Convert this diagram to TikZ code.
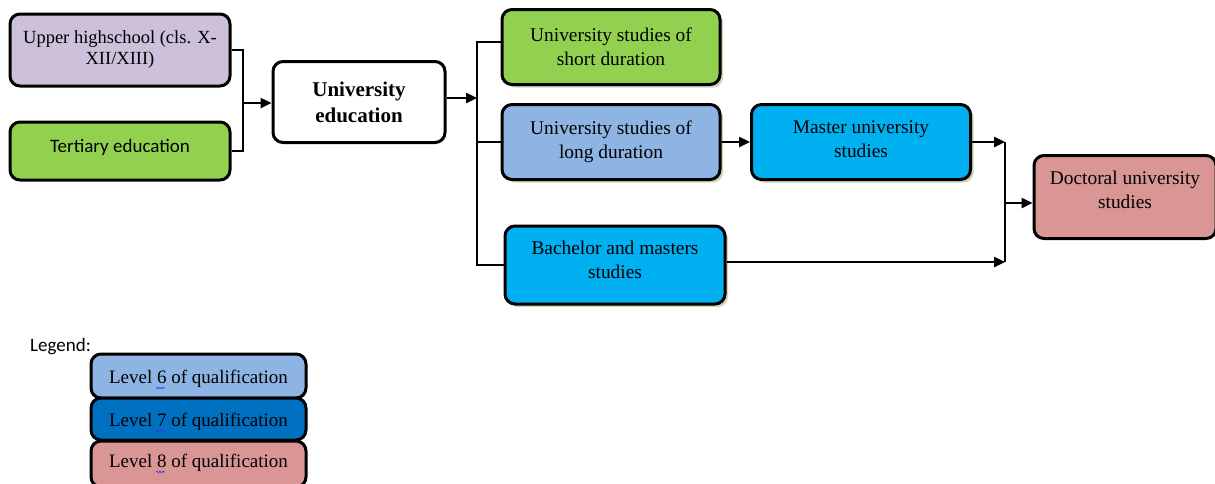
\documentclass[tikz,border=0pt]{standalone}
\usepackage{fontspec}
\setmainfont{Liberation Serif}
\newfontfamily\calibri{Carlito}
\usetikzlibrary{arrows.meta,shadows,decorations.pathmorphing}
\definecolor{lav}{HTML}{CCC0DA}
\definecolor{grn}{HTML}{92D050}
\definecolor{lblue}{HTML}{8DB4E2}
\definecolor{cyanb}{HTML}{00B0F0}
\definecolor{dblue}{HTML}{0070C0}
\definecolor{pinkb}{HTML}{D99694}
\definecolor{shad}{HTML}{C4C9A8}
\tikzset{
  x=1pt,y=-1pt,
  boxs/.style={draw=black, line width=3pt, rounded corners=10pt, align=center,
     inner sep=0pt, font=\fontsize{19.4}{24}\selectfont},
  shd/.style={drop shadow={shadow xshift=3pt,shadow yshift=-3pt,fill=shad,opacity=0.8}},
  conn/.style={line width=2.4pt},
  arr/.style={line width=2.4pt,-{Triangle[length=11pt,width=10pt]}},
  squig/.style={draw=blue!80, line width=0.6pt, decorate,
     decoration={snake,amplitude=0.9pt,segment length=3pt}}
}
\begin{document}
\begin{tikzpicture}
\useasboundingbox (0,0) rectangle (1215,483);
\clip (0,0) rectangle (1215,483);
% nodes
\node[boxs, fill=lav, minimum width=220pt, minimum height=72pt, font=\fontsize{18.5}{21}\selectfont, text depth=4pt] (up) at (120,50) {Upper highschool (cls. X-\\XII/XIII)};
\node[boxs, fill=grn, minimum width=220pt, minimum height=58pt, font=\calibri\fontsize{19}{22}\selectfont, text depth=10pt] (ter) at (120,151) {Tertiary education};
\node[boxs, fill=white, minimum width=172pt, minimum height=81pt, font=\bfseries\fontsize{21}{26}\selectfont] (ue) at (359,102) {University\\education};
\node[boxs, shd, fill=grn, minimum width=218pt, minimum height=75pt] (short) at (611,47) {University studies of\\short duration};
\node[boxs, shd, fill=lblue, minimum width=218pt, minimum height=75pt] (long) at (611,142) {University studies of\\long duration};
\node[boxs, shd, fill=cyanb, minimum width=220pt, minimum height=78pt, text depth=10pt] (bach) at (615,265) {Bachelor and masters\\studies};
\node[boxs, shd, fill=cyanb, minimum width=219pt, minimum height=75pt, text depth=5pt] (mast) at (861,142) {Master university\\studies};
\node[boxs, fill=pinkb, minimum width=182pt, minimum height=83pt, text depth=14pt] (doc) at (1125,197) {Doctoral university\\studies};
% connectors
\coordinate (j1) at (243,103);
\draw[conn] (up.east) -| (j1) |- (ter.east);
\draw[arr] (j1) -- (ue.west |- j1);
\coordinate (j2) at (477,98);
\coordinate (j2t) at (477,42);
\coordinate (j2b) at (477,265);
\draw[arr] (ue.east |- j2) -- (j2);
\draw[conn] (short.west |- j2t) -- (j2t) -- (j2b) -- (bach.west |- j2b);
\draw[conn] (j2 |- long.west) -- (long.west);
\draw[arr] (long.east) -- (mast.west);
\coordinate (j3t) at (1005,142);
\coordinate (j3) at (1005,203);
\coordinate (j3b) at (1005,262);
\draw[arr] (mast.east |- j3t) -- (j3t);
\draw[arr] (bach.east |- j3b) -- (j3b);
\draw[conn] (j3t) -- (j3b);
\draw[arr] (j3) -- (doc.west |- j3);
% legend
\node[font=\calibri\fontsize{19}{22}\selectfont, anchor=west, inner sep=0pt] (leg) at (30,347) {Legend:};
\node[boxs, fill=lblue, minimum width=215pt, minimum height=44pt, font=\fontsize{19}{22}\selectfont, text height=19pt] (l6) at (198.5,376) {Level 6 of qualification};
\node[boxs, fill=dblue, minimum width=215pt, minimum height=42pt, font=\fontsize{19}{22}\selectfont, text height=19pt] (l7) at (198.5,419) {Level 7 of qualification};
\node[boxs, fill=pinkb, minimum width=215pt, minimum height=46pt, font=\fontsize{19}{22}\selectfont, text depth=6pt] (l8) at (198.5,464) {Level 8 of qualification};
\draw[squig] (156,388) -- (165,388);
\draw[squig] (156,431) -- (165,431);
\draw[squig] (156,472) -- (165,472);
\end{tikzpicture}
\end{document}
